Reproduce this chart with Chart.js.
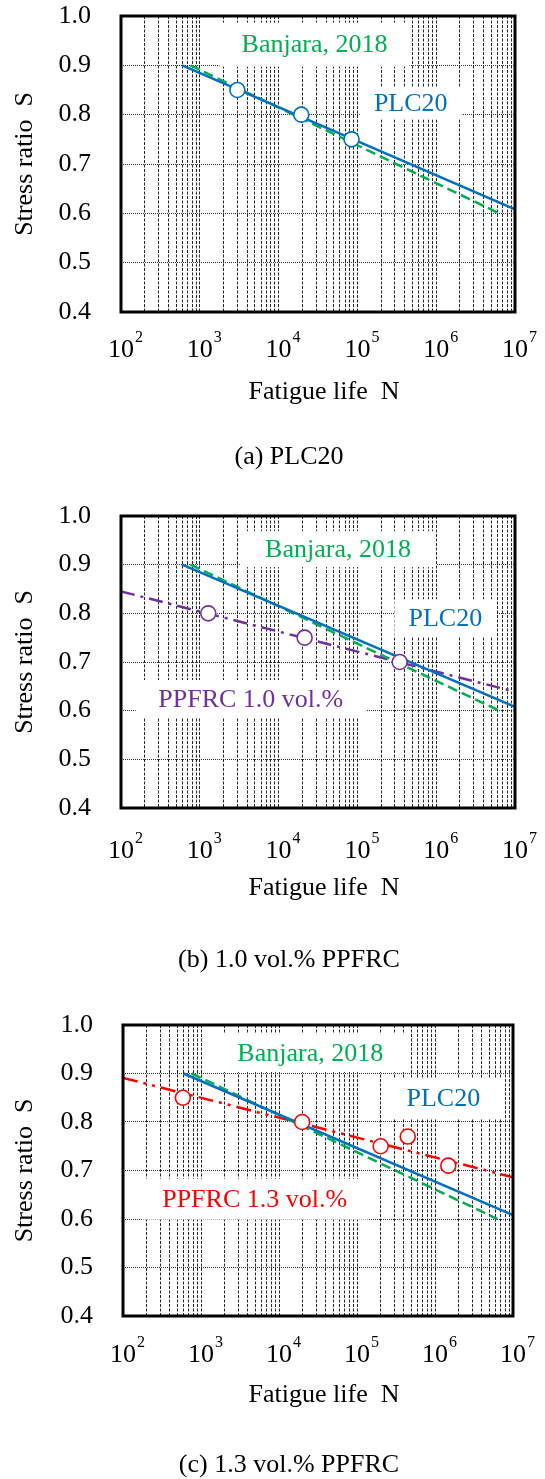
<!DOCTYPE html>
<html><head><meta charset="utf-8">
<script src="https://cdn.jsdelivr.net/npm/chart.js@4/dist/chart.umd.min.js"></script>
<style>
html,body{margin:0;padding:0;background:#fff;}
body{width:545px;height:1479px;position:relative;overflow:hidden;}
canvas{position:absolute;left:0;}
</style></head><body>
<canvas id="cA" width="545" height="490" style="top:0;width:545px;height:490px"></canvas>
<canvas id="cB" width="545" height="485" style="top:490px;width:545px;height:485px"></canvas>
<canvas id="cC" width="545" height="504" style="top:975px;width:545px;height:504px"></canvas>
<script>
// ---------- data ----------
const decadeExponents = [2, 3, 4, 5, 6, 7];           // x tick labels 10^2 ... 10^7
const yTickValues = [0.4, 0.5, 0.6, 0.7, 0.8, 0.9, 1.0];

// PLC20 test results and fitted S-N line
const plcN = [3000, 19400, 84200];
const plcS = [0.85, 0.80, 0.75];
const plcFitN = [597, 1e7];
const plcFitS = [0.90, 0.608];

// Banjara, 2018 line
const banjaraN = [760, 6.3e6];
const banjaraS = [0.90, 0.60];

// PPFRC 1.0 vol.%
const pp10N = [1280, 21400, 344000];
const pp10S = [0.80, 0.75, 0.70];
const pp10FitN = [100, 1e7];
const pp10FitS = [0.845, 0.639];

// PPFRC 1.3 vol.%
const pp13N = [585, 19800, 201000, 447000, 1480000];
const pp13S = [0.85, 0.80, 0.75, 0.77, 0.71];
const pp13FitN = [100, 1e7];
const pp13FitS = [0.891, 0.686];

const txtBanjara = 'Banjara, 2018';
const txtPLC = 'PLC20';
const txtPP10 = 'PPFRC 1.0 vol.%';
const txtPP13 = 'PPFRC 1.3 vol.%';
const yTitle = 'Stress ratio  S';
const xTitle = 'Fatigue life  N';

// ---------- style ----------
const FONT = '"Liberation Serif", "Times New Roman", serif';
const GREEN = '#00B050', BLUE = '#0070C0', PURPLE = '#7030A0', RED = '#FF0000';

const toPts = (xs, ys) => xs.map((x, i) => ({x: x, y: ys[i]}));
const gridValues = [];
decadeExponents.forEach(e => {
  if (e === decadeExponents[decadeExponents.length - 1]) { gridValues.push(Math.pow(10, e)); return; }
  for (let m = 1; m <= 9; m++) gridValues.push(m * Math.pow(10, e));
});

function markers(N, S, color) {
  return {data: toPts(N, S), showLine: false, pointRadius: 7.5, pointHoverRadius: 7.5,
    pointBorderWidth: 1.6, pointBackgroundColor: '#fff', pointBorderColor: color};
}
function fitLine(N, S, color, dash) {
  return {data: toPts(N, S), showLine: true, borderColor: color, borderWidth: 2.5,
    borderDash: dash, pointRadius: 0, pointHoverRadius: 0, fill: false, tension: 0};
}

function makeChart(id, cfg) {
  const cv = document.getElementById(id);
  const deco = {
    id: 'deco' + id,
    beforeDatasetsDraw(chart) {
      const ctx = chart.ctx, xs = chart.scales.x, ys = chart.scales.y;
      ctx.save();
      cfg.labels.forEach(l => {
        const cx = xs.getPixelForValue(Math.pow(10, l.lg));
        const cy = ys.getPixelForValue(l.s);
        ctx.fillStyle = '#fff';
        ctx.fillRect(cx - l.w / 2, cy - l.h / 2, l.w, l.h);
        ctx.fillStyle = l.color;
        ctx.font = '26px ' + FONT;
        ctx.textAlign = 'center';
        ctx.textBaseline = 'middle';
        ctx.fillText(l.text, cx, cy + 1);
      });
      ctx.restore();
    },
    afterDraw(chart) {
      const ctx = chart.ctx, a = chart.chartArea, xs = chart.scales.x;
      ctx.save();
      // frame
      ctx.strokeStyle = '#000';
      ctx.lineWidth = 3;
      ctx.strokeRect(a.left, a.top, a.right - a.left, a.bottom - a.top);
      // x tick labels with superscripts
      ctx.fillStyle = '#000';
      ctx.textBaseline = 'alphabetic';
      decadeExponents.forEach(e => {
        const px = xs.getPixelForValue(Math.pow(10, e));
        ctx.font = '26px ' + FONT;
        ctx.textAlign = 'center';
        const by = a.bottom + cfg.tickDy;
        ctx.fillText('10', px, by);
        const w = ctx.measureText('10').width;
        ctx.font = '16px ' + FONT;
        ctx.textAlign = 'left';
        ctx.fillText(String(e), px + w / 2 + 1, by - 15);
      });
      // x title
      ctx.font = '26px ' + FONT;
      ctx.textAlign = 'center';
      ctx.textBaseline = 'middle';
      ctx.fillText(xTitle, (a.left + a.right) / 2 + 6, a.bottom + cfg.titleDy);
      // caption
      ctx.fillText(cfg.caption, 289, a.bottom + cfg.capDy);
      ctx.restore();
    }
  };
  return new Chart(cv, {
    type: 'scatter',
    data: {datasets: cfg.datasets},
    options: {
      responsive: false, animation: false, devicePixelRatio: 1,
      layout: {padding: {left: 0, top: cfg.padTop, right: cfg.padRight, bottom: cfg.padBottom}},
      plugins: {legend: {display: false}, tooltip: {enabled: false}},
      scales: {
        x: {
          type: 'logarithmic', min: 100, max: 1e7,
          ticks: {display: false},
          grid: {color: 'rgba(0,0,0,0.85)', lineWidth: 1, drawTicks: false},
          border: {display: false, dash: [3, 1.5]},
          afterBuildTicks: s => { s.ticks = gridValues.map(v => ({value: v})); },
          afterFit: s => { s.height = 0; s.paddingLeft = 0; s.paddingRight = 0; }
        },
        y: {
          min: 0.4, max: 1.0,
          afterBuildTicks: s => { s.ticks = yTickValues.map(v => ({value: v})); },
          ticks: {padding: 30, color: '#000', font: {family: FONT, size: 26},
            callback: v => Number(v).toFixed(1)},
          grid: {color: 'rgba(0,0,0,0.8)', lineWidth: 1, drawTicks: false},
          border: {display: false, dash: [1, 1]},
          title: {display: true, text: yTitle, color: '#000', font: {family: FONT, size: 26},
            padding: {top: 10, bottom: 0}},
          afterFit: s => { s.width = cfg.left; s.paddingTop = 0; s.paddingBottom = 0; }
        }
      }
    },
    plugins: [deco]
  });
}

const baseLines = () => [
  fitLine(plcFitN, plcFitS, BLUE, []),
  fitLine(banjaraN, banjaraS, GREEN, [10, 5])
];

makeChart('cA', {
  left: 121, padTop: 16, padRight: 30, padBottom: 178,
  tickDy: 45, titleDy: 80, capDy: 145, caption: '(a) PLC20',
  datasets: [markers(plcN, plcS, BLUE)].concat(baseLines()),
  labels: [
    {text: txtBanjara, color: GREEN, lg: 4.456, s: 0.942, w: 190, h: 44},
    {text: txtPLC, color: BLUE, lg: 5.677, s: 0.823, w: 102, h: 32}
  ]
});

makeChart('cB', {
  left: 121, padTop: 26, padRight: 30, padBottom: 167,
  tickDy: 50, titleDy: 80, capDy: 152, caption: '(b) 1.0 vol.% PPFRC',
  datasets: [markers(pp10N, pp10S, PURPLE)].concat(baseLines(), [fitLine(pp10FitN, pp10FitS, PURPLE, [14, 6, 3, 6])]),
  labels: [
    {text: txtBanjara, color: GREEN, lg: 4.754, s: 0.932, w: 196, h: 36},
    {text: txtPLC, color: BLUE, lg: 6.116, s: 0.791, w: 102, h: 37},
    {text: txtPP10, color: PURPLE, lg: 3.647, s: 0.624, w: 230, h: 38}
  ]
});

makeChart('cC', {
  left: 123, padTop: 50, padRight: 32, padBottom: 163,
  tickDy: 46, titleDy: 79, capDy: 149, caption: '(c) 1.3 vol.% PPFRC',
  datasets: [markers(pp13N, pp13S, RED)].concat(baseLines(), [fitLine(pp13FitN, pp13FitS, RED, [15, 6, 3, 6, 3, 6])]),
  labels: [
    {text: txtBanjara, color: GREEN, lg: 4.401, s: 0.942, w: 200, h: 38},
    {text: txtPLC, color: BLUE, lg: 6.107, s: 0.849, w: 116, h: 40},
    {text: txtPP13, color: RED, lg: 3.688, s: 0.641, w: 226, h: 41}
  ]
});
</script>
</body></html>
